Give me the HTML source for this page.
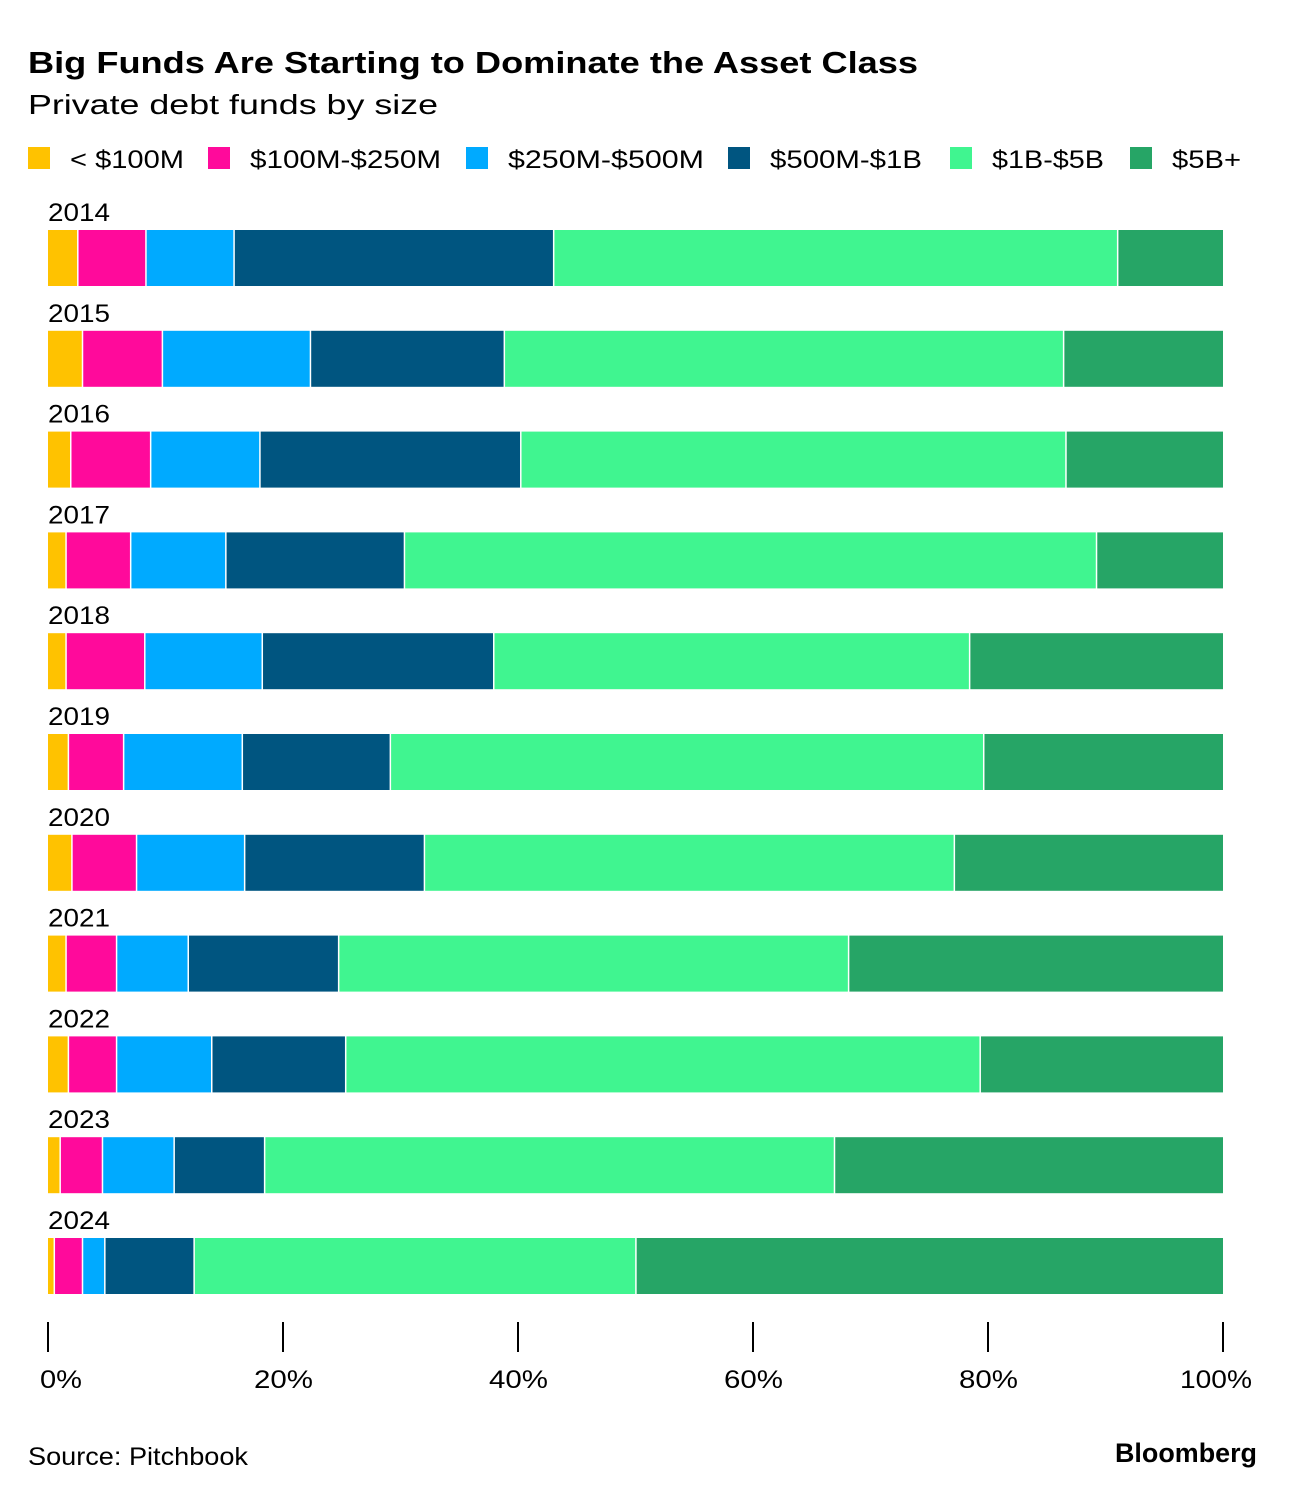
<!DOCTYPE html>
<html><head><meta charset="utf-8"><style>
body{margin:0;background:#fff;font-family:"Liberation Sans",sans-serif;}
svg text{font-family:"Liberation Sans",sans-serif;}
</style></head><body>
<svg id="c" width="1296" height="1498" xmlns="http://www.w3.org/2000/svg">
<text x="28" y="73" font-size="31" font-weight="bold" fill="#000" textLength="890" lengthAdjust="spacingAndGlyphs">Big Funds Are Starting to Dominate the Asset Class</text>
<text x="28" y="114" font-size="28" fill="#000" textLength="410" lengthAdjust="spacingAndGlyphs">Private debt funds by size</text>
<g id="legend"></g>
<g id="bars"></g>
<g id="axis"></g>
<text x="28" y="1465" font-size="25" fill="#000" textLength="220" lengthAdjust="spacingAndGlyphs">Source: Pitchbook</text>
<text x="1115" y="1462" font-size="27" font-weight="bold" fill="#000" textLength="142" lengthAdjust="spacingAndGlyphs">Bloomberg</text>
</svg>
<script>
const years=["2014","2015","2016","2017","2018","2019","2020","2021","2022","2023","2024"];
const seriesNames=["< $100M","$100M-$250M","$250M-$500M","$500M-$1B","$1B-$5B","$5B+"];
const colors=["#ffc200","#ff0a9b","#00aaff","#005580","#40f590","#26a566"];
const s0=[2.6,3.0,2.0,1.6,1.6,1.8,2.1,1.6,1.8,1.1,0.6];
const s1=[5.8,6.8,6.8,5.5,6.7,4.7,5.5,4.3,4.1,3.6,2.4];
const s2=[7.5,12.6,9.3,8.1,10.0,10.1,9.2,6.1,8.1,6.1,1.9];
const s3=[27.2,16.5,22.2,15.2,19.7,12.6,15.3,12.8,11.4,7.7,7.6];
const s4=[48.0,47.6,46.4,58.9,40.5,50.5,45.1,43.4,54.0,48.5,37.6];
const s5=[8.9,13.5,13.3,10.7,21.5,20.3,22.8,31.8,20.6,33.0,49.9];
const ticks=[0,20,40,60,80,100];
const series=[s0,s1,s2,s3,s4,s5];
const NS="http://www.w3.org/2000/svg";
const x0=48,x1=1223;
const xs=v=>x0+(x1-x0)*v/100;
const rowY=i=>230+i*100.8;
function mk(t,a,p){const e=document.createElementNS(NS,t);for(const k in a)e.setAttribute(k,a[k]);p.appendChild(e);return e;}
const lg=document.getElementById('legend');
const lx=[28,208,466,728,950,1130];
const lw=[114,191,196,152,112,69];
seriesNames.forEach((n,k)=>{
 const g=mk('g',{},lg);
 
 
 mk('rect',{x:lx[k],y:147,width:22,height:22,fill:colors[k]},g);
 const t=mk('text',{x:lx[k]+42,y:168,'font-size':25,fill:'#000',textLength:lw[k],lengthAdjust:'spacingAndGlyphs'},g);t.textContent=n;
});
const bg=document.getElementById('bars');
years.forEach((yr,i)=>{
 const y=rowY(i);
 const lab=mk('text',{x:48,y:y-9,'font-size':25,fill:'#000',textLength:62,lengthAdjust:'spacingAndGlyphs'},bg);
 
 
 lab.textContent=yr;
 let cum=0;
 series.forEach((s,k)=>{
  const a=xs(cum),b=xs(cum+s[i]);cum+=s[i];
  const r=mk('rect',{x:a,y:y,width:Math.max(0,b-a-(k<5?1.5:0)),height:56,fill:colors[k]},bg);
  
  
 });
});
const ax=document.getElementById('axis');
ticks.forEach(t=>{
 const x=xs(t);
 const l=mk('line',{x1:x,x2:x,y1:1322,y2:1352,stroke:'#000','stroke-width':2},ax);
 
 
 const w=t==0?42:(t==100?72:59);
 const tx=mk('text',{x:t==0?x-8:(t==100?x-43:x-29),y:1388,'font-size':25,fill:'#000',textLength:w,lengthAdjust:'spacingAndGlyphs'},ax);
 
 
 tx.textContent=t+'%';
});
</script>
</body></html>
